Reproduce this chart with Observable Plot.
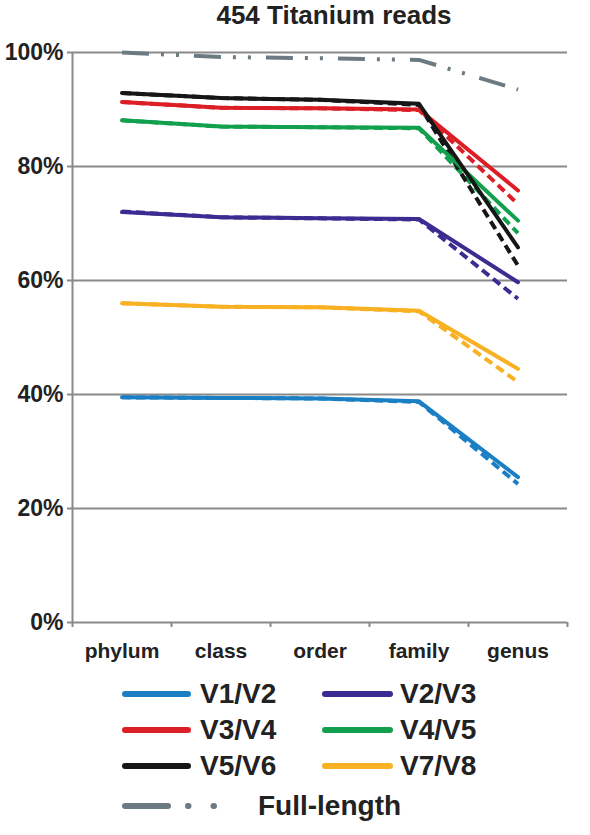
<!DOCTYPE html>
<html><head><meta charset="utf-8">
<script src="https://cdn.jsdelivr.net/npm/d3@7"></script>
<script src="https://cdn.jsdelivr.net/npm/@observablehq/plot@0.6"></script>
<style>
body{margin:0;background:#fff;font-family:"Liberation Sans",Arial,sans-serif;color:#222;}
#wrap{position:relative;width:590px;height:835px;overflow:hidden;}
#title{position:absolute;left:0;top:0;width:668px;text-align:center;font-size:26px;font-weight:bold;line-height:30px;}
#chart{position:absolute;left:0;top:40px;}
.lg{position:absolute;font-size:28px;font-weight:bold;line-height:34px;white-space:nowrap;}
.sw{position:absolute;}
</style></head>
<body><div id="wrap"><div id="title">454 Titanium reads</div><div id="chart"></div></div>
<script>
const ranks = ["phylum", "class", "order", "family", "genus"];
const yTicks = [0, 20, 40, 60, 80, 100];
const seriesNames = ["V1/V2", "V2/V3", "V3/V4", "V4/V5", "V5/V6", "V7/V8", "Full-length"];
const seriesColors = ["#1b7fc3", "#3e2b92", "#dc1f26", "#12a04e", "#161616", "#f8b122", "#6c7a82"];
// solid lines
const v1v2 = [39.5, 39.4, 39.3, 38.8, 25.5];
const v2v3 = [72.0, 71.1, 70.9, 70.8, 59.7];
const v3v4 = [91.3, 90.3, 90.2, 90.0, 75.8];
const v4v5 = [88.1, 87.0, 86.9, 86.8, 70.5];
const v5v6 = [92.9, 92.0, 91.7, 91.0, 65.8];
const v7v8 = [56.0, 55.4, 55.3, 54.7, 44.5];
// dashed lines
const v1v2Dashed = [39.5, 39.4, 39.3, 38.7, 24.3];
const v2v3Dashed = [72.1, 71.1, 70.9, 70.7, 56.8];
const v3v4Dashed = [91.3, 90.3, 90.2, 89.9, 73.4];
const v4v5Dashed = [88.1, 87.0, 86.9, 86.7, 68.3];
const v5v6Dashed = [92.9, 92.0, 91.7, 90.8, 62.6];
const v7v8Dashed = [56.0, 55.4, 55.3, 54.6, 42.2];
const fullLength = [100, 99.2, 99.0, 98.7, 93.5];

const solid = [v1v2, v2v3, v3v4, v4v5, v5v6, v7v8];
const dashed = [v1v2Dashed, v2v3Dashed, v3v4Dashed, v4v5Dashed, v5v6Dashed, v7v8Dashed];
const toRows = (arrs) => arrs.flatMap((vals, s) => vals.map((v, i) => ({series: seriesNames[s], rank: i, value: v})));
const solidRows = toRows(solid);
const dashedRows = toRows(dashed);
const fullRows = fullLength.map((v, i) => ({series: "Full-length", rank: i, value: v}));

const gray = "#8a8a8a";
const chart = Plot.plot({
  width: 590, height: 632,
  marginLeft: 72, marginRight: 23, marginTop: 12, marginBottom: 50,
  x: {domain: [-0.5, ranks.length - 0.5], axis: null},
  y: {domain: [0, 100], axis: null},
  color: {domain: seriesNames, range: seriesColors},
  style: {fontFamily: "'Liberation Sans', Arial, sans-serif", color: "#222", background: "transparent"},
  marks: [
    Plot.gridY(yTicks, {stroke: gray, strokeWidth: 2, strokeOpacity: 1}),
    Plot.ruleX([-0.5], {stroke: gray, strokeWidth: 2}),
    Plot.axisY({ticks: yTicks, label: null, tickSize: 5, tickPadding: 4, tickFormat: d => d + "%", fontSize: 23, fontWeight: "bold", stroke: gray, strokeWidth: 2, fill: "#222"}),
    Plot.axisX({ticks: d3.range(-0.5, ranks.length, 1), label: null, tickSize: 5, tickFormat: () => "", stroke: gray, strokeWidth: 2}),
    Plot.axisX({ticks: d3.range(ranks.length), label: null, tickSize: 0, tickPadding: 21, tickFormat: i => ranks[i], fontSize: 21, fontWeight: "bold", fill: "#222"}),
    Plot.line(fullRows, {x: "rank", y: "value", z: "series", stroke: "series", strokeWidth: 4, strokeDasharray: "27,12,3,12,3,15", strokeLinecap: "butt"}),
    Plot.line(dashedRows, {x: "rank", y: "value", z: "series", stroke: "series", strokeWidth: 4, strokeDasharray: "9,5", strokeLinecap: "butt"}),
    Plot.line(solidRows, {x: "rank", y: "value", z: "series", stroke: "series", strokeWidth: 4})
  ]
});
document.getElementById("chart").appendChild(chart);

// legend
const wrap = document.getElementById("wrap");
const legendRows = [694, 730, 766];
const legendCols = [{sx: 125, ex: 188, tx: 200}, {sx: 325, ex: 390, tx: 400}];
function swatch(x1, x2, y, color, dash) {
  const ns = "http://www.w3.org/2000/svg";
  const s = document.createElementNS(ns, "svg");
  s.setAttribute("class", "sw");
  s.setAttribute("width", x2 - x1 + 10);
  s.setAttribute("height", 12);
  s.style.left = (x1 - 5) + "px";
  s.style.top = (y - 6) + "px";
  const l = document.createElementNS(ns, "line");
  l.setAttribute("x1", 5); l.setAttribute("x2", x2 - x1 + 5);
  l.setAttribute("y1", 6); l.setAttribute("y2", 6);
  l.setAttribute("stroke", color); l.setAttribute("stroke-width", 6);
  l.setAttribute("stroke-linecap", "round");
  if (dash) l.setAttribute("stroke-dasharray", dash);
  s.appendChild(l);
  wrap.appendChild(s);
}
function label(x, y, text) {
  const d = document.createElement("div");
  d.className = "lg"; d.textContent = text;
  d.style.left = x + "px"; d.style.top = (y - 17) + "px";
  wrap.appendChild(d);
}
for (let k = 0; k < 6; k++) {
  const row = Math.floor(k / 2), col = legendCols[k % 2];
  swatch(col.sx, col.ex, legendRows[row], seriesColors[k]);
  label(col.tx, legendRows[row], seriesNames[k]);
}
swatch(125, 214, 806, seriesColors[6], "43,20,0.5,25,0.5,100");
label(258, 806, seriesNames[6]);
</script></body></html>
